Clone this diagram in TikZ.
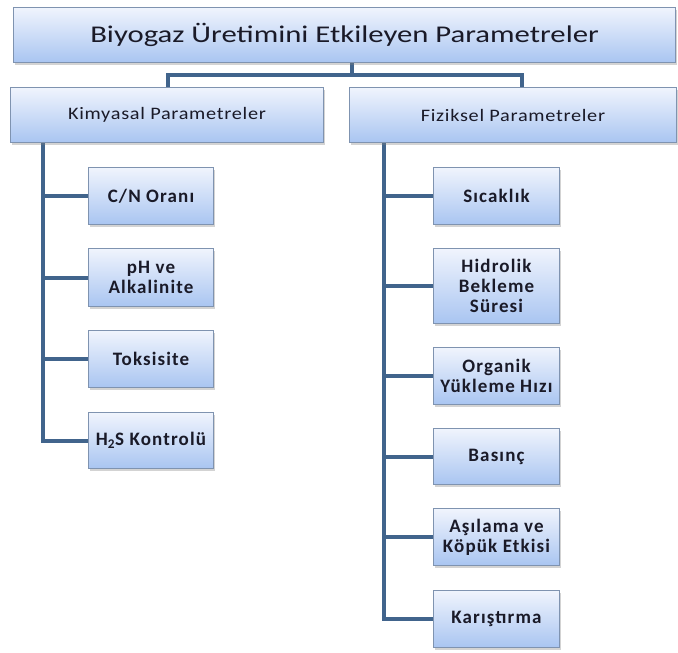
\documentclass[tikz,border=0pt]{standalone}
\usepackage{fontspec}
\setmainfont{Carlito}
\usetikzlibrary{shadows,backgrounds}
\definecolor{linec}{HTML}{41648C}
\definecolor{boxborder}{HTML}{7F93B0}
\definecolor{boxtop}{HTML}{F0F4FD}
\definecolor{boxbot}{HTML}{A9C5F1}
\definecolor{txt}{HTML}{1A1A28}
\tikzset{
  box/.style={draw=boxborder, line width=1pt, top color=boxtop, bottom color=boxbot,
    drop shadow={shadow xshift=1pt, shadow yshift=-2.5pt, opacity=0.35},
    text=txt, align=center, inner sep=0pt, anchor=north west},
  conn/.style={draw=linec, line width=4pt},
  child/.style={box, font=\fontsize{19}{20}\selectfont\bfseries\addfontfeatures{LetterSpace=6}},
  mid/.style={box, minimum height=55pt, font=\fontsize{17.5}{20}\selectfont\addfontfeatures{LetterSpace=4,FakeStretch=1.16}},
}
\begin{document}
\begin{tikzpicture}[x=1pt,y=-1pt]
\useasboundingbox (0,0) rectangle (678,653);
\coordinate (kl) at (43,0);
\coordinate (fl) at (384,0);
\coordinate (tc) at (352,0);
\coordinate (kd) at (168,0);
\coordinate (fd) at (522,0);
\coordinate (hy) at (0,75);
% top
\node[box, minimum width=662pt, minimum height=55pt, font=\fontsize{24}{28}\selectfont\addfontfeatures{FakeStretch=1.28}] (top) at (13,7) {Biyogaz Üretimini Etkileyen Parametreler};
\node[mid, minimum width=313pt] (kim) at (10,87) {Kimyasal Parametreler};
\node[mid, minimum width=327pt] (fiz) at (349,87) {Fiziksel Parametreler};
% left children
\node[child, minimum width=125pt, minimum height=57pt] (cn) at (88,167) {C/N Oranı};
\node[child, minimum width=125pt, minimum height=58pt] (ph) at (88,248) {pH ve\\Alkalinite};
\node[child, minimum width=125pt, minimum height=57pt] (tok) at (88,330) {Toksisite};
\node[child, minimum width=125pt, minimum height=56pt] (hs) at (88,412) {H\textsubscript{2}S Kontrolü};
% right children
\node[child, minimum width=126pt, minimum height=57pt] (sic) at (433,167) {Sıcaklık};
\node[child, minimum width=126pt, minimum height=75pt] (hid) at (433,248) {Hidrolik\\Bekleme\\Süresi};
\node[child, minimum width=126pt, minimum height=57pt] (org) at (433,347) {Organik\\Yükleme Hızı};
\node[child, minimum width=126pt, minimum height=56pt] (bas) at (433,428) {Basınç};
\node[child, minimum width=126pt, minimum height=57pt] (asi) at (433,508) {Aşılama ve\\Köpük Etkisi};
\node[child, minimum width=126pt, minimum height=57pt] (kar) at (433,590) {Karıştırma};
% connectors
\begin{scope}[on background layer]
\draw[conn] (top.south -| tc) -- (hy -| tc);
\draw[conn] (kim.north -| kd) |- (hy -| tc) -| (fiz.north -| fd);
\draw[conn] (kim.south -| kl) |- (hs.west);
\draw[conn] (cn.west) -- (cn.west -| kl);
\draw[conn] (ph.west) -- (ph.west -| kl);
\draw[conn] (tok.west) -- (tok.west -| kl);
\draw[conn] (fiz.south -| fl) |- (kar.west);
\draw[conn] (sic.west) -- (sic.west -| fl);
\draw[conn] (hid.west) -- (hid.west -| fl);
\draw[conn] (org.west) -- (org.west -| fl);
\draw[conn] (bas.west) -- (bas.west -| fl);
\draw[conn] (asi.west) -- (asi.west -| fl);
\end{scope}
\end{tikzpicture}
\end{document}
